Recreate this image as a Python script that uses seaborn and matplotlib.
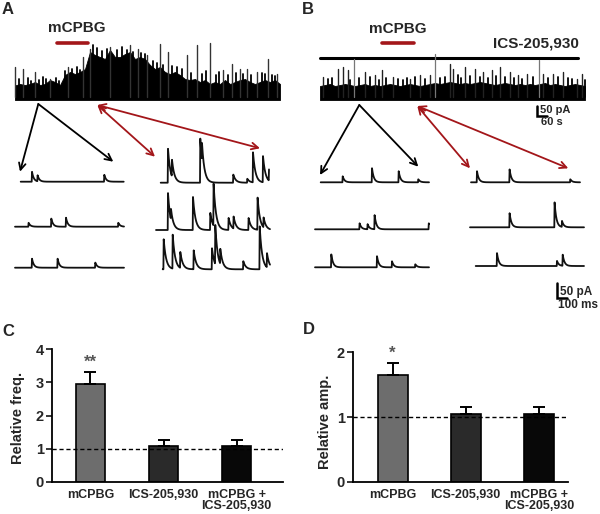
import numpy as np
import pandas as pd
import seaborn as sns
import matplotlib.pyplot as plt

# ------------------------------------------------------------
# data
# ------------------------------------------------------------
conditions = ["mCPBG", "ICS-205,930", "mCPBG +\nICS-205,930"]
freq_mean = [2.95, 1.07, 1.07]
freq_sem = [0.37, 0.18, 0.20]
amp_mean = [1.65, 1.05, 1.05]
amp_sem = [0.19, 0.11, 0.11]
bar_colors = ["#6d6d6d", "#2a2a2a", "#080808"]

# long recordings: top of the dense activity band (pA, one value every 0.5 min)
envA = [58, 65, 60, 65, 75, 60, 65, 85, 75, 60, 110, 125, 115, 125, 140, 225, 210, 200,
        190, 235, 200, 200, 215, 225, 190, 200, 190, 160, 140, 150, 125, 115, 125, 110,
        90, 85, 90, 75, 85, 65, 75, 65, 85, 65, 75, 85, 90, 75, 65, 75, 85, 75, 85, 65]
envB = [55, 60, 65, 55, 60, 65, 60, 55, 60, 65, 55, 60, 55, 60, 65, 60, 55, 60, 65, 60,
        55, 60, 65, 70, 65, 70, 75, 70, 65, 70, 65, 70, 75, 70, 65, 60, 65, 70, 65, 60,
        65, 60, 65, 60, 65, 70, 60, 65, 60, 55, 60, 65, 60, 55]
# large events on the long recordings (min, pA)
spikesA_t = [0.0, 0.83, 2.0, 3.5, 5.33, 6.83, 7.5, 9.5, 11.5, 12.3, 13.2, 14.5, 15.3,
             17.2, 18.2, 19.5, 20.8, 21.7, 22.5, 23.2, 24.2, 25.3, 26.2]
spikesA_amp = [150, 140, 125, 90, 150, 200, 240, 250, 260, 240, 210, 265, 225,
               210, 260, 270, 135, 165, 140, 140, 125, 190, 115]
# medium events riding on the dense band (min, pA)
midA_t = [0.4, 1.3, 1.6, 2.4, 2.8, 3.1, 4.1, 4.4, 5.0, 5.7, 6.2, 6.5, 7.8, 8.2, 8.7,
          9.2, 10.2, 10.7, 11.2, 11.8, 12.6, 13.0, 13.8, 14.2, 14.8, 15.7, 16.2, 16.7,
          17.6, 18.7, 19.1, 20.1, 20.4, 21.3, 22.1, 22.8, 23.6, 24.7, 25.0, 25.7, 26.0]
midA_amp = [90, 95, 80, 85, 100, 90, 95, 80, 130, 140, 150, 135, 260, 245, 230,
            240, 235, 250, 235, 225, 220, 215, 180, 170, 160, 155, 150, 140,
            120, 115, 130, 110, 125, 110, 120, 115, 110, 120, 115, 110, 105]
spikesB_t = [0.33, 1.83, 2.33, 2.83, 4.5, 5.5, 6.17, 7.33, 9.0, 10.0, 11.0, 13.0, 13.3,
             14.5, 15.5, 16.3, 17.2, 18.0, 19.0, 19.8, 20.7, 22.3, 23.3, 24.3, 25.7, 26.2]
spikesB_amp = [100, 140, 150, 135, 125, 110, 135, 100, 90, 110, 110, 165, 140,
               150, 140, 125, 135, 150, 125, 110, 115, 115, 115, 125, 90, 115]
midB_t = [0.8, 1.2, 3.0, 3.9, 5.0, 5.9, 6.6, 7.8, 8.3, 8.7, 9.5, 10.5, 12.0, 12.5, 13.8,
          14.1, 15.0, 16.0, 16.8, 17.6, 18.5, 19.4, 20.2, 21.3, 22.8, 23.8, 24.8, 25.2, 26.5]
midB_amp = [90, 95, 85, 95, 100, 85, 95, 90, 85, 95, 100, 90, 95, 100, 110,
            95, 105, 100, 95, 105, 100, 95, 90, 100, 95, 100, 95, 90, 85]
tallB_t = [3.43, 11.5, 21.9]
tallB_amp = [190, 215, 185]

# expanded sweeps: event times (ms) and amplitudes (pA), sweep length (ms)
sweepsA_ctrl = [
    ([110, 166, 833], [33, 20, 23], 1030),
    ([133, 360, 507, 1030], [13, 27, 30, 13], 1090),
    ([167, 423, 800], [30, 30, 17], 1090),
]
sweepsA_drug = [
    ([70, 110, 393, 410, 723, 863, 920, 1020, 1080], [113, 55, 147, 60, 27, 13, 100, 87, 37], 1083),
    ([117, 147, 367, 540, 573, 723, 773, 923, 1013, 1073], [123, 35, 110, 57, 140, 40, 40, 40, 107, 33], 1140),
    ([7, 97, 173, 307, 490, 523, 573, 803, 967, 1040], [100, 113, 53, 63, 70, 130, 50, 27, 143, 47], 1073),
]
sweepsB_ctrl = [
    ([217, 510, 777, 973], [20, 47, 37, 10], 1083),
    ([443, 523, 593, 1135], [20, 17, 47, 20], 1140),
    ([160, 617, 767, 1000], [43, 37, 20, 10], 1140),
]
sweepsB_drug = [
    ([57, 383, 990], [37, 43, 10], 1090),
    ([393, 843, 917], [47, 83, 20], 1140),
    ([210, 810, 867], [43, 17, 37], 1083),
]

RED = "#a3161a"

sns.set_style("white")
plt.rcParams["font.family"] = ["Liberation Sans", "DejaVu Sans"]
plt.rcParams["font.weight"] = "bold"

fig = plt.figure(figsize=(6, 5.14), dpi=100)

# overlay in pixel units for the recordings
ov = fig.add_axes([0, 0, 1, 1])
ov.set_xlim(0, 600)
ov.set_ylim(514, 0)
ov.set_axis_off()


def long_trace(x0, y0, env, sp_t, sp_a, mid_t, mid_a, color):
    # 10 px per min, 0.2 px per pA
    t = np.arange(len(env)) * 0.5
    x = x0 + t * 10
    ov.fill_between(x, y0 + 3, y0 - np.array(env) * 0.2, color="black", lw=0.6,
                    edgecolor="black")
    for ti, ai in zip(mid_t, mid_a):
        ov.plot([x0 + ti * 10] * 2, [y0, y0 - ai * 0.2], color="black", lw=1.3)
    for ti, ai in zip(sp_t, sp_a):
        ov.plot([x0 + ti * 10] * 2, [y0, y0 - ai * 0.2], color=color, lw=1.0)


def sweep(x0, y0, ev_t, ev_a, length, tau=18.0):
    # 0.1 px per ms, 0.3 px per pA
    t = np.arange(0, length + 1, 1.0)
    y = np.zeros_like(t)
    for t0, a in zip(ev_t, ev_a):
        d = t - t0
        shape = np.where(d < 0, 0, np.minimum(d / 3.0, 1.0) * np.exp(-np.maximum(d - 3, 0) / tau))
        y += a * shape
    ov.plot(x0 + t * 0.1, y0 - y * 0.3, color="#111111", lw=1.3)


# ---------------- panel A ----------------
ov.text(2, 9, "A", fontsize=12, fontweight="bold", va="center")
ov.text(77, 28, "mCPBG", fontsize=11, fontweight="bold", ha="center", va="center")
ov.plot([56.7, 87.7], [42.7, 42.7], color=RED, lw=2.6)
long_trace(15, 97, envA, spikesA_t, spikesA_amp, midA_t, midA_amp, "#333333")

for (x0, y0), (et, ea, ln) in zip([(20.7, 181.7), (15, 226.7), (15, 267.7)], sweepsA_ctrl):
    sweep(x0, y0, et, ea, ln)
for (x0, y0), (et, ea, ln) in zip([(160.7, 182.7), (156, 230), (162.7, 269.3)], sweepsA_drug):
    sweep(x0, y0, et, ea, ln, tau=24.0)

blk = dict(arrowstyle="->", color="black", lw=1.3, shrinkA=0, shrinkB=0, mutation_scale=12)
red = dict(arrowstyle="<->", color=RED, lw=1.3, shrinkA=0, shrinkB=0, mutation_scale=12)
ov.annotate("", xy=(20, 171.7), xytext=(38.3, 104), arrowprops=blk)
ov.annotate("", xy=(113.3, 161.7), xytext=(38.3, 104), arrowprops=blk)
ov.annotate("", xy=(155, 156.7), xytext=(97.3, 105), arrowprops=red)
ov.annotate("", xy=(260, 148.3), xytext=(97.3, 105), arrowprops=red)

# ---------------- panel B ----------------
ov.text(302, 9, "B", fontsize=12, fontweight="bold", va="center")
ov.text(398, 29, "mCPBG", fontsize=11, fontweight="bold", ha="center", va="center")
ov.plot([381.7, 414.3], [43.3, 43.3], color=RED, lw=2.6)
ov.plot([320, 578.3], [57.7, 57.7], color="black", lw=2.2)
ov.text(579, 43, "ICS-205,930", fontsize=11, fontweight="bold", ha="right", va="center")
long_trace(320, 97, envB, spikesB_t, spikesB_amp, midB_t, midB_amp, "#222222")
for ti, ai in zip(tallB_t, tallB_amp):
    ov.plot([320 + ti * 10] * 2, [97, 97 - ai * 0.2], color="#777777", lw=0.9)

for (x0, y0), (et, ea, ln) in zip([(320.7, 182.3), (315, 229.3), (315, 267.3)], sweepsB_ctrl):
    sweep(x0, y0, et, ea, ln)
for (x0, y0), (et, ea, ln) in zip([(471, 182.3), (470, 227.3), (475.7, 266)], sweepsB_drug):
    sweep(x0, y0, et, ea, ln)

ov.annotate("", xy=(320, 175), xytext=(359.3, 105), arrowprops=blk)
ov.annotate("", xy=(418.3, 166.7), xytext=(359.3, 105), arrowprops=blk)
ov.annotate("", xy=(470, 168.3), xytext=(417.3, 106), arrowprops=red)
ov.annotate("", xy=(568.3, 168.3), xytext=(417.3, 106), arrowprops=red)

# scale bars
ov.plot([537, 537, 547], [105.7, 115.7, 115.7], color="black", lw=1.8, solid_joinstyle="miter")
ov.text(539.5, 110, "50 pA", fontsize=8, fontweight="bold", va="center")
ov.text(551.7, 122, "60 s", fontsize=8, fontweight="bold", ha="center", va="center")
ov.plot([556.7, 556.7, 567], [283, 298, 298], color="black", lw=1.8, solid_joinstyle="miter")
ov.text(560, 291.5, "50 pA", fontsize=8.5, fontweight="bold", va="center")
ov.text(578.3, 304.5, "100 ms", fontsize=8.5, fontweight="bold", ha="center", va="center")

ov.text(2, 332, "C", fontsize=12, fontweight="bold", va="center")
ov.text(303, 330, "D", fontsize=12, fontweight="bold", va="center")

# ------------------------------------------------------------
# bar charts
# ------------------------------------------------------------
df = pd.DataFrame({"condition": conditions, "freq": freq_mean, "amp": amp_mean})


def bar_panel(rect, col, sem, ylim, ticks, xlim, ylabel, label_xy, star, star_y):
    ax = fig.add_axes(rect)
    sns.barplot(data=df, x="condition", y=col, hue="condition", palette=bar_colors,
                legend=False, width=0.41, edgecolor="black", linewidth=1.2,
                errorbar=None, ax=ax)
    ax.errorbar(range(3), df[col], yerr=[np.zeros(3), sem], fmt="none", ecolor="black",
                elinewidth=1.4, capsize=4.5, capthick=1.4, zorder=3)
    ax.axhline(1, color="black", ls=(0, (3, 2)), lw=1.0, zorder=4)
    ax.set_ylim(*ylim)
    ax.set_xlim(*xlim)
    ax.set_yticks(ticks)
    ax.set_xlabel("")
    ax.set_ylabel(ylabel, fontsize=10.5, fontweight="bold")
    ax.yaxis.set_label_coords(*label_xy)
    ax.tick_params(axis="y", direction="out", length=4, width=1.3, pad=2, labelsize=10.5, left=True)
    ax.tick_params(axis="x", length=0, pad=5, labelsize=9)
    for lab in ax.get_xticklabels():
        lab.set_fontweight("bold")
        lab.set_linespacing(0.9)
    for lab in ax.get_yticklabels():
        lab.set_fontweight("bold")
    sns.despine(ax=ax)
    for s in ["left", "bottom"]:
        ax.spines[s].set_linewidth(1.3)
        ax.spines[s].set_color("black")
    ax.text(0, star_y, star, ha="center", va="center", color="#555555", fontsize=12,
            fontweight="bold", clip_on=False)
    ax.patch.set_alpha(0)
    return ax


bar_panel([0.0867, 0.0628, 0.385, 0.2576], "freq", freq_sem, (0, 4), [0, 1, 2, 3, 4],
          (-0.527, 2.637), "Relative freq.", (-0.117, 0.48), "**", 3.6)
bar_panel([0.5888, 0.0628, 0.358, 0.2518], "amp", amp_sem, (0, 2), [0, 1, 2],
          (-0.537, 2.40), "Relative amp.", (-0.10, 0.464), "*", 1.98)

fig.savefig("out.png", dpi=100)
